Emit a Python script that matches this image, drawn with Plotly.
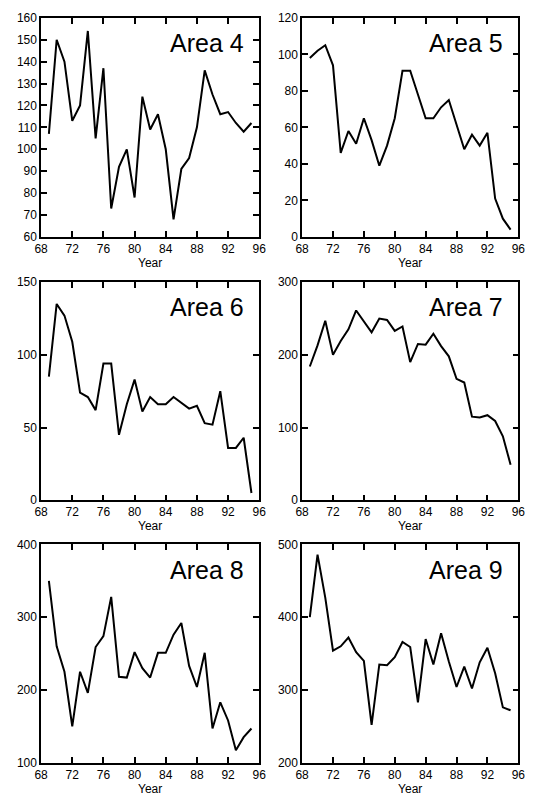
import plotly.graph_objects as go

years = list(range(1969, 1996))
year_short = [y - 1900 for y in years]

area4 = [107, 150, 140, 113, 120, 154, 105, 137, 73, 92, 100, 78, 124, 109, 116, 100, 68, 91, 96, 110, 136, 125, 116, 117, 112, 108, 112]
area5 = [98, 102, 105, 94, 46, 58, 51, 65, 53, 39, 50, 65, 91, 91, 78, 65, 65, 71, 75, 61, 48, 56, 50, 57, 21, 10, 4]
area6 = [85, 135, 127, 109, 74, 71, 62, 94, 94, 45, 66, 83, 61, 71, 66, 66, 71, 67, 63, 65, 53, 52, 75, 36, 36, 43, 5]
area7 = [184, 213, 247, 200, 219, 235, 261, 246, 231, 250, 248, 233, 239, 190, 215, 214, 229, 212, 198, 167, 162, 115, 114, 117, 109, 88, 49]
area8 = [350, 260, 225, 150, 225, 196, 259, 274, 328, 218, 217, 252, 230, 217, 251, 251, 276, 292, 233, 204, 251, 147, 183, 158, 117, 135, 147]
area9 = [400, 486, 427, 354, 360, 372, 352, 340, 252, 335, 334, 345, 366, 359, 283, 370, 335, 378, 339, 304, 332, 302, 338, 358, 323, 276, 272]

panels = [
    ("Area 4", area4, [60, 160], 10),
    ("Area 5", area5, [0, 120], 20),
    ("Area 6", area6, [0, 150], 50),
    ("Area 7", area7, [0, 300], 100),
    ("Area 8", area8, [100, 400], 100),
    ("Area 9", area9, [200, 500], 100),
]
x_ticks = [68, 72, 76, 80, 84, 88, 92, 96]

W, H = 537, 806
col_px = [(35, 259), (303, 525)]
row_px = [(11, 234), (280, 502), (547, 769)]

fig = go.Figure()
font = "Liberation Sans, Arial, sans-serif"
tickfont = "Liberation Sans Narrow, Arial Narrow, Liberation Sans, sans-serif"
layout = dict(width=W, height=H, margin=dict(l=0, r=0, t=0, b=0),
              paper_bgcolor="white", plot_bgcolor="white", showlegend=False)
annotations = []
for i, (name, vals, yr, dt) in enumerate(panels):
    r, c = divmod(i, 2)
    n = i + 1
    xs = "" if n == 1 else str(n)
    fig.add_trace(go.Scatter(x=year_short, y=vals, mode="lines",
                             line=dict(color="black", width=2),
                             xaxis="x" + xs, yaxis="y" + xs))
    x0, x1 = col_px[c]
    y0, y1 = row_px[r]
    common = dict(showline=True, linecolor="black", linewidth=1.5, mirror="ticks",
                  ticks="inside", ticklen=6, tickwidth=1.5, tickcolor="black",
                  showgrid=False, zeroline=False,
                  tickfont=dict(family=tickfont, size=12, color="black"))
    layout["xaxis" + xs] = dict(common, domain=[x0 / W, x1 / W], range=[68, 96],
                                tickvals=x_ticks, anchor="y" + xs,
                                title=dict(text="Year", standoff=2,
                                           font=dict(family=tickfont, size=12, color="black")))
    layout["yaxis" + xs] = dict(common, domain=[1 - y1 / H, 1 - y0 / H], range=yr,
                                dtick=dt, tick0=yr[0], anchor="x" + xs)
    annotations.append(dict(text=name, xref="x" + xs + " domain", yref="y" + xs + " domain",
                            x=0.94, y=0.885, xanchor="right", yanchor="middle",
                            showarrow=False, font=dict(family=font, size=25, color="black")))
layout["annotations"] = annotations
fig.update_layout(**layout)
fig.write_html("out.html", config={"displayModeBar": False},
               post_script="document.body.style.margin='0';")
